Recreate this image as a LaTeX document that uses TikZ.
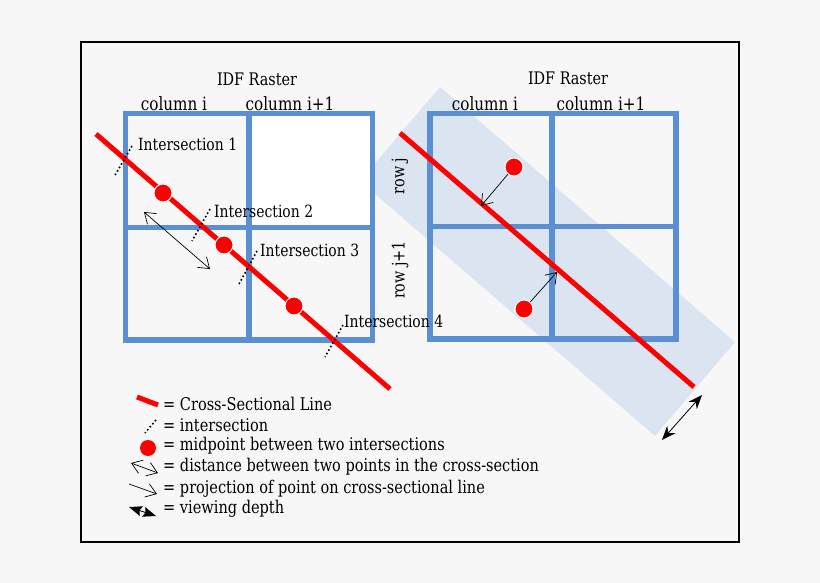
\documentclass[tikz,border=0pt]{standalone}
\usepackage{fontspec}
\setmainfont{DejaVu Serif}[FakeStretch=0.83]
\usetikzlibrary{arrows.meta, positioning}
\definecolor{pagegrey}{HTML}{F7F7F7}
\definecolor{gridblue}{HTML}{5B8FD4}
\definecolor{bandblue}{HTML}{DBE5F2}
\tikzset{
  gridline/.style={draw=gridblue, line width=5.4pt},
  crossline/.style={draw=red, line width=5pt},
  isectline/.style={draw=black, line width=1.6pt, dash pattern=on 1.6pt off 2.4pt},
  midpt/.style={circle, fill=red, draw=white, line width=1pt, minimum size=18pt, inner sep=0pt},
  distarrow/.style={draw=black, line width=0.7pt, {Straight Barb[length=10pt,width=14pt]}-{Straight Barb[length=10pt,width=14pt]}},
  projarrow/.style={draw=black, line width=0.7pt, -{Straight Barb[length=10pt,width=14pt]}},
  deptharrow/.style={draw=black, line width=0.8pt, {Stealth[length=14pt,width=11pt]}-{Stealth[length=14pt,width=11pt]}},
  keydepth/.style={draw=black, line width=0.8pt, {Stealth[length=13pt,width=10pt,inset=2pt]}-{Stealth[length=13pt,width=10pt,inset=2pt]}},
  lbl/.style={font=\fontsize{17.3}{20}\selectfont, inner sep=0pt, text=black},
  collbl/.style={font=\fontsize{18.3}{20}\selectfont, inner sep=0pt, text=black},
  smalllbl/.style={font=\fontsize{16.8}{20}\selectfont, inner sep=0pt, anchor=west, text=black},
  legendlbl/.style={font=\fontsize{17.5}{20}\selectfont, inner sep=0pt, anchor=west, text=black},
}
\begin{document}
\begin{tikzpicture}[x=1pt, y=-1pt]
\useasboundingbox (0,0) rectangle (820,583);
\fill[pagegrey] (0,0) rectangle (820,583);
\draw[black, line width=2pt] (81,42) rectangle (739,542);

% band and white cell
\fill[bandblue] (440,87) -- (735,342) -- (655,436) -- (360,181) -- cycle;
\fill[white] (249,113) rectangle (373,227);

% left raster
\draw[gridline] (125.5,113.5) rectangle (372.5,340);
\draw[gridline] (249,113) -- (249,340);
\draw[gridline] (126,227.5) -- (373,227.5);
\node[lbl] (rasterl) at (257,79) {IDF Raster};
\node[collbl] (coliL) at (174,104) {column i};
\node[collbl] (coljL) at (290,104) {column i+1};

% right raster
\draw[gridline] (430,113.5) rectangle (676,339);
\draw[gridline] (552,113) -- (552,339);
\draw[gridline] (430,226.5) -- (676,226.5);
\node[lbl] (rasterr) at (568,78) {IDF Raster};
\node[collbl] (coliR) at (485,104) {column i};
\node[collbl] (coljR) at (601,104) {column i+1};
\node[lbl, rotate=90] (rowj) at (400,176) {row j};
\node[lbl, rotate=90] (rowjj) at (400,270) {row j+1};

% cross-sections
\coordinate (lineLa) at (96,134);
\coordinate (lineLb) at (390,389);
\coordinate (lineRa) at (400,133);
\coordinate (lineRb) at (694,387);
\draw[crossline] (lineLa) -- (lineLb);
\draw[crossline] (lineRa) -- (lineRb);

% intersections
\foreach \n/\xa/\ya/\xb/\yb in {1/132/146/114/177, 2/210/209/192/241, 3/257/251/239/284, 4/343/325/325/357} {
  \coordinate (isa\n) at (\xa,\ya);
  \coordinate (isb\n) at (\xb,\yb);
  \draw[isectline] (isa\n) -- (isb\n);
}
\node[smalllbl] (is1) at (138,144) {Intersection 1};
\node[smalllbl] (is2) at (214,211) {Intersection 2};
\node[smalllbl] (is3) at (260,250) {Intersection 3};
\node[smalllbl] (is4) at (344,321) {Intersection 4};

% midpoints
\node[midpt] (mid1) at (163,193) {};
\node[midpt] (mid2) at (224,245) {};
\node[midpt] (mid3) at (294,306) {};
\node[midpt] (ptA) at (514,167) {};
\node[midpt] (ptB) at (524,309) {};

% arrows
\coordinate (dista) at (144,212);
\coordinate (distb) at (210,269);
\draw[distarrow] (dista) -- (distb);
\coordinate (projA) at (481,206);
\coordinate (projB) at (557,272);
\draw[projarrow] (ptA) -- (projA);
\draw[projarrow] (ptB) -- (projB);
\coordinate (deptha) at (702,395);
\coordinate (depthb) at (662,440);
\draw[deptharrow] (deptha) -- (depthb);

% legend
\coordinate (keyLa) at (137,397);
\coordinate (keyLb) at (158,405);
\draw[crossline] (keyLa) -- (keyLb);
\coordinate (keyIa) at (156,420);
\coordinate (keyIb) at (145,433);
\draw[isectline] (keyIa) -- (keyIb);
\node[midpt, draw=none, minimum size=16pt] (keyM) at (148,448) {};
\coordinate (keyDa) at (131,463);
\coordinate (keyDb) at (158,473);
\draw[distarrow] (keyDa) -- (keyDb);
\coordinate (keyPa) at (129,484);
\coordinate (keyPb) at (157,494);
\draw[projarrow] (keyPa) -- (keyPb);
\coordinate (keyVa) at (129,507);
\coordinate (keyVb) at (156,516);
\draw[keydepth] (keyVa) -- (keyVb);

\node[legendlbl] (t1) at (163,404) {= Cross-Sectional Line};
\node[legendlbl] (t2) at (163,425) {= intersection};
\node[legendlbl] (t3) at (163,446) {= midpoint between two intersections};
\node[legendlbl] (t4) at (163,467) {= distance between two points in the cross-section};
\node[legendlbl] (t5) at (163,488.5) {= projection of point on cross-sectional line};
\node[legendlbl] (t6) at (163,508.5) {= viewing depth};
\end{tikzpicture}
\end{document}
